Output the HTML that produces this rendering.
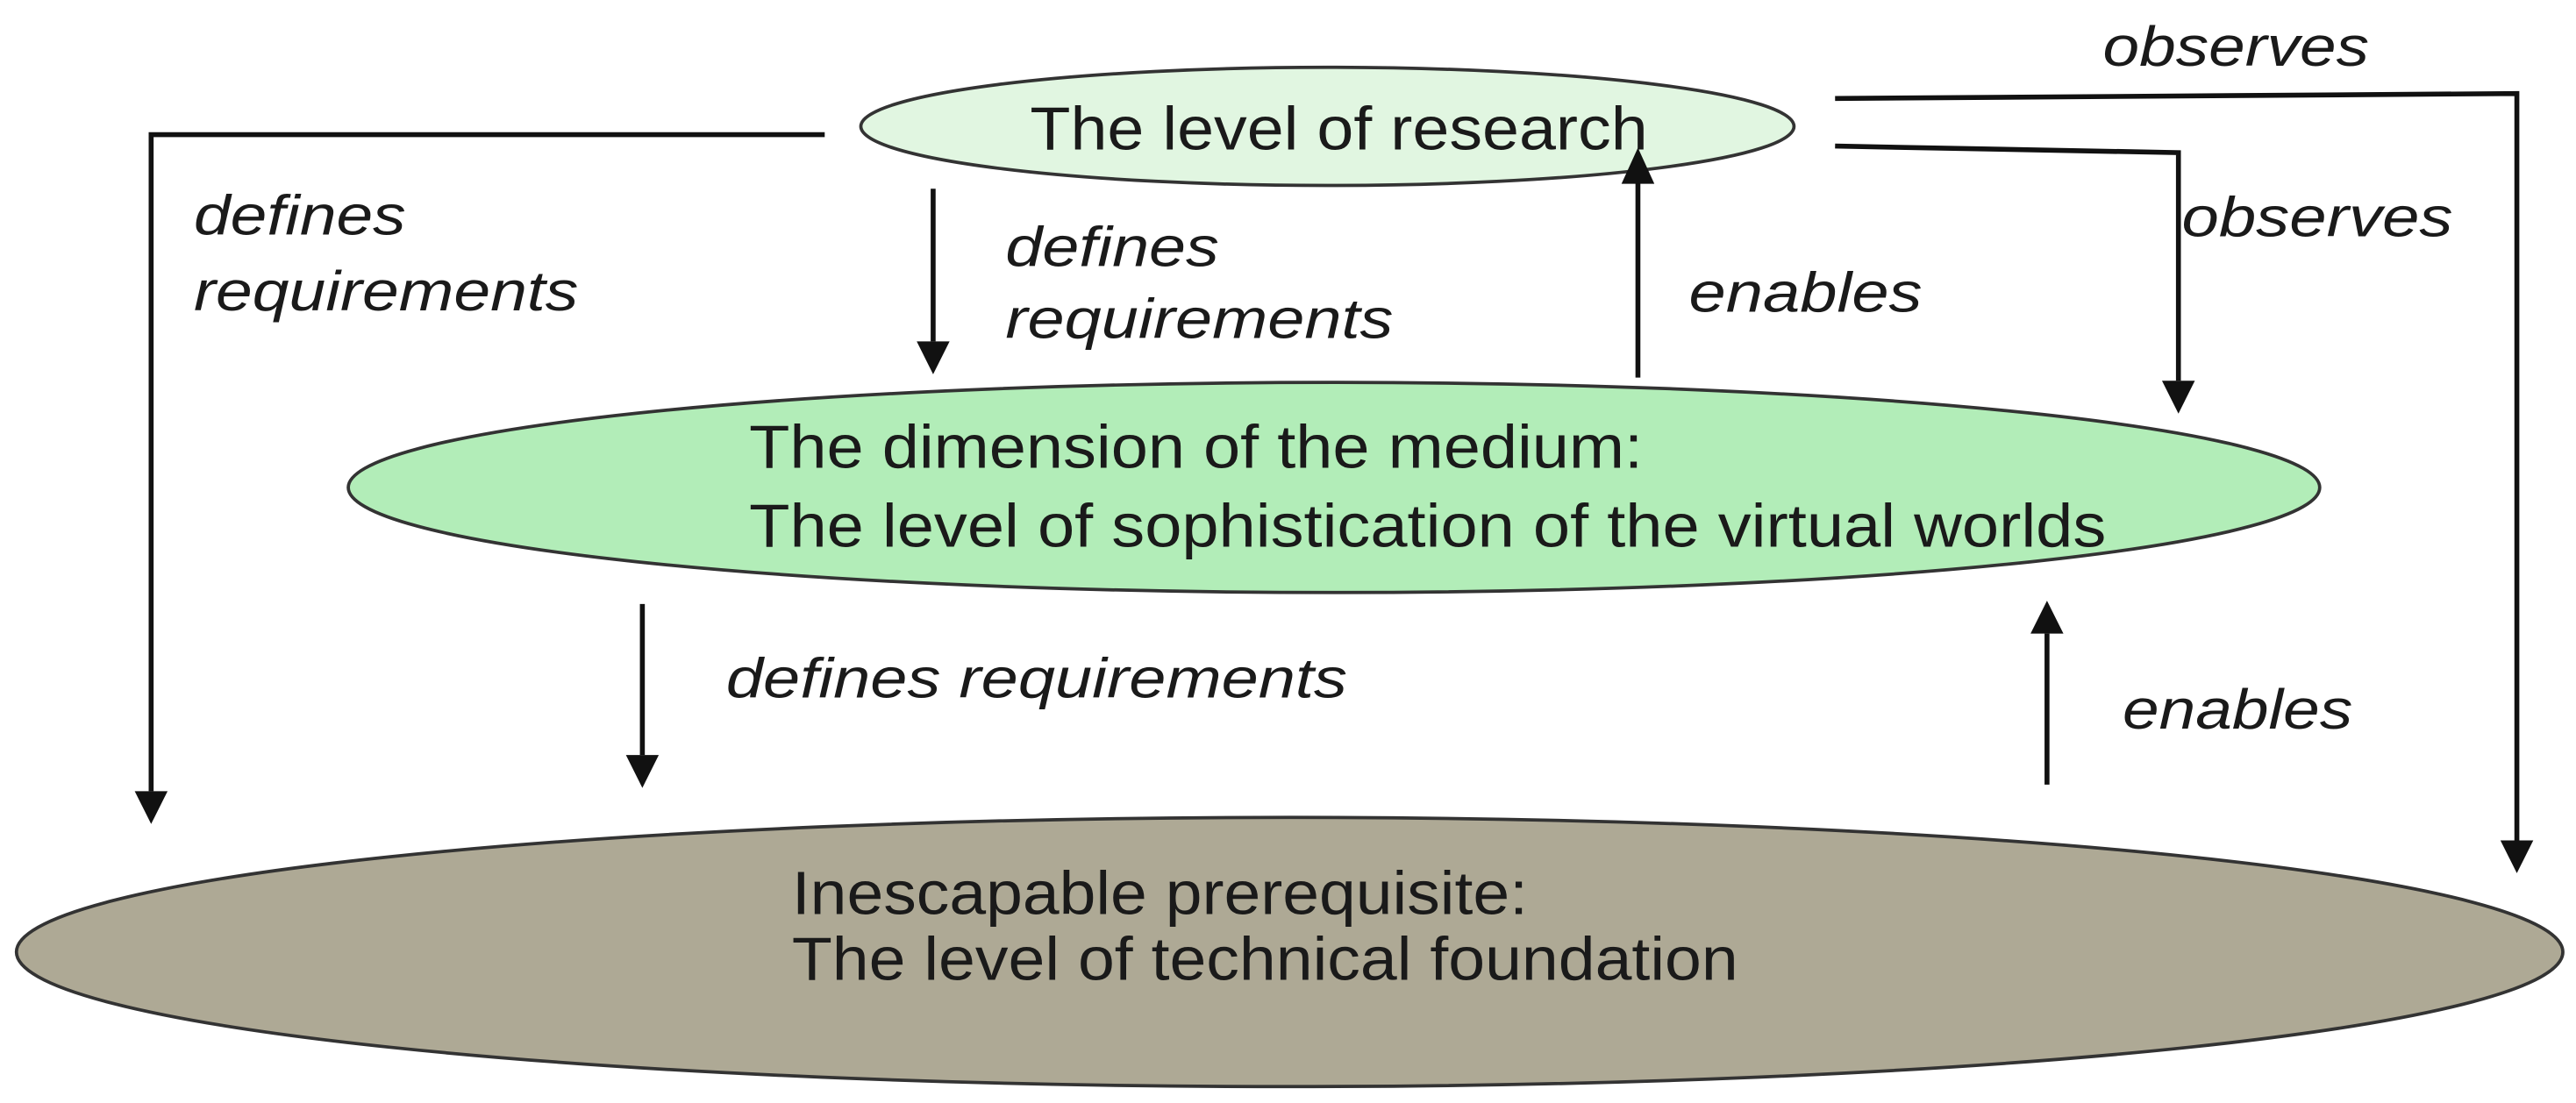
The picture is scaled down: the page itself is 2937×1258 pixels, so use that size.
<!DOCTYPE html>
<html><head><meta charset="utf-8"><style>
html,body{margin:0;padding:0;background:#fff;}
svg{display:block;}
text{font-family:"Liberation Sans",Arial,sans-serif;fill:#1a1a1a;}
.l{font-style:italic;font-size:34px;}
.n{font-size:37px;}
</style></head><body>
<svg width="2937" height="1258" viewBox="0 0 1568 672" preserveAspectRatio="none" xmlns="http://www.w3.org/2000/svg">
<g fill="none" stroke="#111" stroke-width="3">
<polyline points="502,82 92,82 92,482"/>
<polyline points="1117,60 1532,57 1532,512"/>
<polyline points="1117,89 1326,93 1326,232"/>
<line x1="568" y1="115" x2="568" y2="208"/>
<line x1="997" y1="230" x2="997" y2="110"/>
<line x1="391" y1="368" x2="391" y2="460"/>
<line x1="1246" y1="478" x2="1246" y2="386"/>
</g>
<ellipse cx="808" cy="77" rx="284" ry="36" fill="#e1f6e1" stroke="#333" stroke-width="2"/>
<ellipse cx="812" cy="297" rx="600" ry="64" fill="#b2edb8" stroke="#333" stroke-width="2"/>
<ellipse cx="785" cy="580" rx="775" ry="82" fill="#aea995" stroke="#333" stroke-width="2"/>
<g fill="#111">
<polygon points="82,482 102,482 92,502"/>
<polygon points="1522,512 1542,512 1532,532"/>
<polygon points="1316,232 1336,232 1326,252"/>
<polygon points="558,208 578,208 568,228"/>
<polygon points="987,112 1007,112 997,90"/>
<polygon points="381,460 401,460 391,480"/>
<polygon points="1236,386 1256,386 1246,366"/>
</g>
<text class="n" x="627" y="91" textLength="376" lengthAdjust="spacingAndGlyphs">The level of research</text>
<text class="n" x="456" y="285" textLength="544" lengthAdjust="spacingAndGlyphs">The dimension of the medium:</text>
<text class="n" x="456" y="333" textLength="826" lengthAdjust="spacingAndGlyphs">The level of sophistication of the virtual worlds</text>
<text class="n" x="482" y="557" textLength="448" lengthAdjust="spacingAndGlyphs">Inescapable prerequisite:</text>
<text class="n" x="482" y="597" textLength="576" lengthAdjust="spacingAndGlyphs">The level of technical foundation</text>
<text class="l" x="118" y="143" textLength="129" lengthAdjust="spacingAndGlyphs">defines</text>
<text class="l" x="118" y="189" textLength="234" lengthAdjust="spacingAndGlyphs">requirements</text>
<text class="l" x="612" y="162" textLength="130" lengthAdjust="spacingAndGlyphs">defines</text>
<text class="l" x="612" y="206" textLength="236" lengthAdjust="spacingAndGlyphs">requirements</text>
<text class="l" x="1028" y="190" textLength="142" lengthAdjust="spacingAndGlyphs">enables</text>
<text class="l" x="1328" y="144" textLength="165" lengthAdjust="spacingAndGlyphs">observes</text>
<text class="l" x="1280" y="40" textLength="162" lengthAdjust="spacingAndGlyphs">observes</text>
<text class="l" x="442" y="425" textLength="378" lengthAdjust="spacingAndGlyphs">defines requirements</text>
<text class="l" x="1292" y="444" textLength="140" lengthAdjust="spacingAndGlyphs">enables</text>
</svg>
</body></html>
